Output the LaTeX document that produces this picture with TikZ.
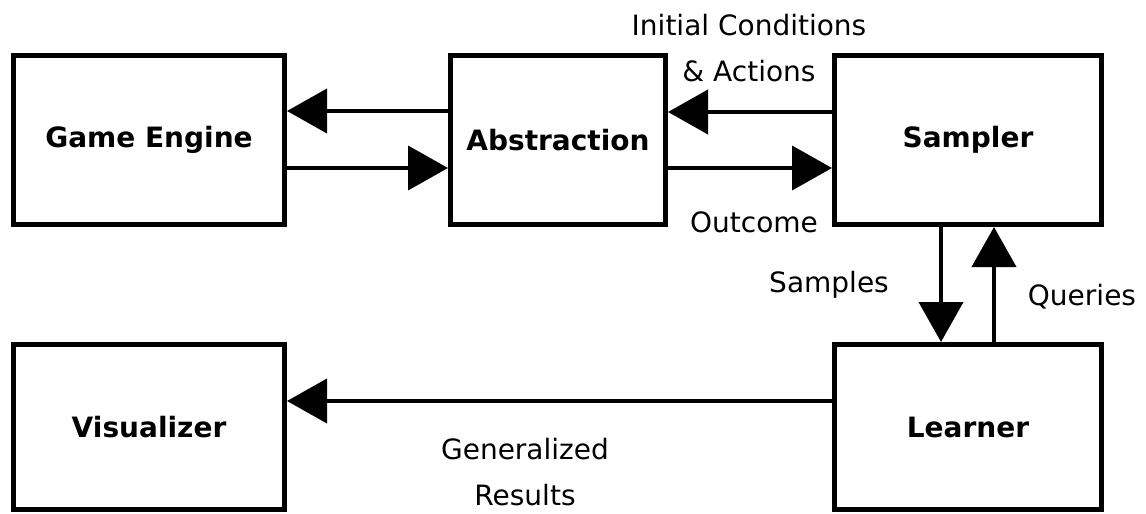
\documentclass[tikz,border=0pt]{standalone}
\usepackage{fontspec}
\setmainfont{DejaVu Sans}
\usetikzlibrary{arrows.meta, positioning}

\begin{document}
\begin{tikzpicture}[x=1pt, y=-1pt,
block/.style={draw, line width=5pt, minimum height=169pt, inner sep=0pt, font=\fontsize{28}{34}\selectfont\bfseries},
lbl/.style={inner sep=0pt, align=center, font=\fontsize{28}{46}\selectfont}]
\useasboundingbox (0,0) rectangle (1146,514);
%Boxes:
\node (game) [block, minimum width=271pt] at (149,140) {Game Engine};
\node (abs) [block, minimum width=215pt] at (558,140) {Abstraction};
\node (samp) [block, minimum width=267pt] at (968,140) {Sampler};
\node (vis) [block, minimum width=271pt, minimum height=165pt] at (149,427) {Visualizer};
\node (learn) [block, minimum width=267pt, minimum height=165pt] at (968,427) {Learner};
%Labels:
\node (initlbl) [lbl] at (749,48.5) {Initial Conditions\\\& Actions};
\node (outlbl) [lbl, anchor=base] at (754,232) {Outcome};
\node (samplbl) [lbl, anchor=base] at (829,292) {Samples};
\node (querylbl) [lbl, anchor=base] at (1082,305) {Queries};
\node (genlbl) [lbl] at (525,472.5) {Generalized\\Results};
%Flows:
\path [line width=4pt, -{Triangle[length=40pt,width=44pt]}]
([yshift=29pt]abs.west) edge ([yshift=29pt]game.east)
([yshift=-28pt]game.east) edge ([yshift=-28pt]abs.west)
([yshift=28pt]samp.west) edge ([yshift=28pt]abs.east)
([yshift=-28pt]abs.east) edge ([yshift=-28pt]samp.west)
([xshift=-27pt]samp.south) edge ([xshift=-27pt]learn.north)
([xshift=26pt]learn.north) edge ([xshift=26pt]samp.south)
([yshift=26pt]learn.west) edge ([yshift=26pt]vis.east)
;
\end{tikzpicture}
\end{document}
